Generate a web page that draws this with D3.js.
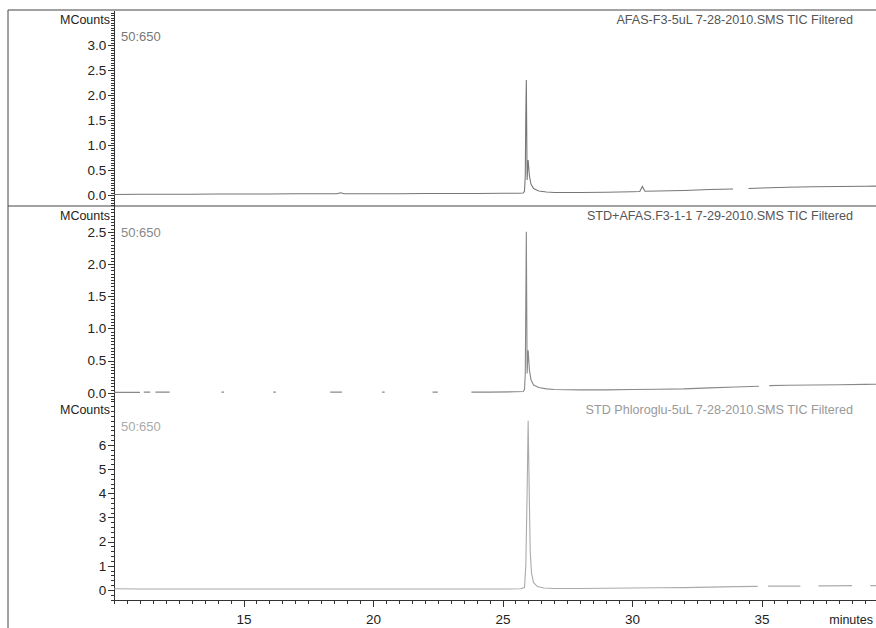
<!doctype html>
<html>
<head>
<meta charset="utf-8"/>
<title>TIC chromatograms</title>
<script src="https://cdnjs.cloudflare.com/ajax/libs/d3/7.8.5/d3.min.js"></script>
<style>
  body { margin: 0; background: #fff; }
  svg { font-family: "Liberation Sans", Arial, sans-serif; }
  .axis path, .axis line { stroke: #333; shape-rendering: crispEdges; }
  .axis text { fill: #222; font-size: 13.5px; }
</style>
</head>
<body>
<svg width="876" height="628"></svg>
<script>
// ---- data (minutes, MCounts); null = gap in the recorded trace ----
var titles = ["AFAS-F3-5uL 7-28-2010.SMS TIC Filtered",
              "STD+AFAS.F3-1-1 7-29-2010.SMS TIC Filtered",
              "STD Phloroglu-5uL 7-28-2010.SMS TIC Filtered"];
var massRange = "50:650";

var t1 = [10, 11, 12, 13, 14, 15, 16, 17, 18, 18.6, 18.75, 18.9, 20, 21, 22, 23, 24, 25, 25.6, 25.8,
          25.85, 25.88, 25.9, 25.92, 25.95, 25.99, 26.04, 26.1, 26.2, 26.4, 26.7, 27, 28, 29, 30,
          30.3, 30.4, 30.5, 31, 32, 33, 33.9, 34.1, 34.5, 35, 36, 37, 38, 39, 40];
var v1 = [0.01, 0.015, 0.015, 0.015, 0.02, 0.02, 0.02, 0.025, 0.025, 0.025, 0.045, 0.025, 0.025, 0.025, 0.03, 0.03, 0.03, 0.035, 0.035, 0.04,
          0.08, 0.4, 1.6, 2.3, 0.3, 0.7, 0.38, 0.22, 0.13, 0.08, 0.06, 0.05, 0.05, 0.055, 0.065,
          0.07, 0.17, 0.075, 0.08, 0.09, 0.11, 0.12, null, 0.13, 0.14, 0.155, 0.165, 0.17, 0.175, 0.18];

var t2 = [10, 11, 11.05, 11.15, 11.4, 11.5, 11.6, 12.15, 12.2, 14.15, 14.25, 14.3, 16.15, 16.25, 16.3, 18.35, 18.8, 18.85,
          20.35, 20.45, 20.5, 22.3, 22.5, 22.55, 23.8, 24.5, 25.5, 25.8,
          25.85, 25.88, 25.9, 25.92, 25.95, 25.99, 26.04, 26.1, 26.2, 26.4, 26.7, 27, 28, 29, 30, 31, 32, 33, 34, 34.9, 35.05,
          35.3, 36, 37, 38, 39, 40];
var v2 = [0.005, 0.005, null, 0.01, 0.01, null, 0.01, 0.01, null, 0.01, 0.01, null, 0.01, 0.01, null, 0.01, 0.01, null,
          0.01, 0.01, null, 0.01, 0.01, null, 0.01, 0.01, 0.015, 0.02,
          0.05, 0.3, 1.4, 2.5, 0.3, 0.66, 0.35, 0.2, 0.12, 0.08, 0.06, 0.05, 0.045, 0.045, 0.05, 0.055, 0.06, 0.075, 0.09, 0.1, null,
          0.11, 0.115, 0.12, 0.125, 0.13, 0.135];

var t3 = [10, 11, 12, 13, 14, 15, 16, 17, 18, 19, 20, 21, 22, 23, 24, 25, 25.7,
          25.85, 25.9, 25.95, 25.99, 26.03, 26.07, 26.12, 26.2, 26.35, 26.6, 27, 28, 29, 30, 31, 32, 33, 34, 34.85, 35.05,
          35.25, 36.5, 36.7, 37.2, 37.5, 38.5, 38.8, 39.2, 40];
var v3 = [0.05, 0.04, 0.04, 0.04, 0.04, 0.04, 0.04, 0.04, 0.04, 0.04, 0.04, 0.04, 0.04, 0.04, 0.04, 0.04, 0.05,
          0.1, 1.0, 4.0, 7.0, 4.2, 1.6, 0.7, 0.3, 0.14, 0.08, 0.06, 0.06, 0.07, 0.08, 0.09, 0.1, 0.12, 0.14, 0.15, null,
          0.16, 0.16, null, 0.17, 0.17, 0.18, null, 0.18, 0.18];

var series = [t1.map(function(t, i) { return [t, v1[i]]; }),
              t2.map(function(t, i) { return [t, v2[i]]; }),
              t3.map(function(t, i) { return [t, v3[i]]; })];

var yMajor = [d3.range(0, 3.01, 0.5), d3.range(0, 2.51, 0.5), d3.range(0, 6.1, 1)];
var xMajor = [15, 20, 25, 30, 35];

// ---- layout ----
var svg = d3.select("svg");
var left = 114;
var panels = [
  {top: 10,  bottom: 206, dom: [-0.22, 3.7],  minor: 0.05, fmt: ".1f", col: "#777", tcol: "#555", lcol: "#777"},
  {top: 206, bottom: 400, dom: [-0.113, 2.9], minor: 0.05, fmt: ".1f", col: "#888", tcol: "#555", lcol: "#888"},
  {top: 400, bottom: 600, dom: [-0.414, 7.86], minor: 0.2, fmt: "d",  col: "#aaa", tcol: "#999", lcol: "#aaa"}
];

var x = d3.scaleLinear().domain([10, 40]).range([left, left + 30 * 25.9]);

// frame
svg.append("path").attr("d", "M8,628V10H876").attr("fill", "none").attr("stroke", "#444");
svg.append("line").attr("x1", 8).attr("x2", 876).attr("y1", 206).attr("y2", 206).attr("stroke", "#444");

panels.forEach(function(p, i) {
  var y = d3.scaleLinear().domain(p.dom).range([p.bottom, p.top]);
  var g = svg.append("g");

  g.append("g").attr("class", "axis").attr("transform", "translate(" + left + ",0)")
    .call(d3.axisLeft(y).tickValues(d3.range(Math.ceil(p.dom[0] / p.minor) * p.minor, p.dom[1], p.minor))
      .tickSize(3).tickSizeOuter(0).tickFormat(""));
  g.append("g").attr("class", "axis").attr("transform", "translate(" + left + ",0)")
    .call(d3.axisLeft(y).tickValues(yMajor[i]).tickSize(6).tickSizeOuter(0).tickFormat(d3.format(p.fmt)))
    .call(function(a) { a.select(".domain").remove(); a.selectAll("text").attr("dx", "0.1em"); });

  g.append("text").attr("x", 110).attr("y", p.top + 14).attr("text-anchor", "end")
    .attr("font-size", 12.5).attr("fill", "#222").text("MCounts");
  g.append("text").attr("x", 121).attr("y", p.top + 31).attr("font-size", 13)
    .attr("fill", p.lcol).text(massRange);
  g.append("text").attr("x", 853).attr("y", p.top + 14).attr("text-anchor", "end")
    .attr("font-size", 12.6).attr("fill", p.tcol).text(titles[i]);

  var line = d3.line().defined(function(d) { return d[1] !== null; })
    .x(function(d) { return x(d[0]); }).y(function(d) { return y(d[1]); });
  g.append("path").datum(series[i]).attr("d", line)
    .attr("fill", "none").attr("stroke", p.col).attr("stroke-width", 1.1);
});

// x axis
svg.append("g").attr("class", "axis").attr("transform", "translate(0,600)")
  .call(d3.axisBottom(x).tickValues(d3.range(10, 40.01, 0.5)).tickSize(4).tickSizeOuter(0).tickFormat(""));
svg.append("g").attr("class", "axis").attr("transform", "translate(0,600)")
  .call(d3.axisBottom(x).tickValues(xMajor).tickSize(7).tickSizeOuter(0).tickFormat(d3.format("d")))
  .call(function(a) { a.select(".domain").remove(); a.selectAll("text").attr("dy", "1.0em"); });

svg.append("text").attr("x", 873).attr("y", 624).attr("text-anchor", "end")
  .attr("font-size", 12.5).attr("fill", "#222").text("minutes");
</script>
</body>
</html>
